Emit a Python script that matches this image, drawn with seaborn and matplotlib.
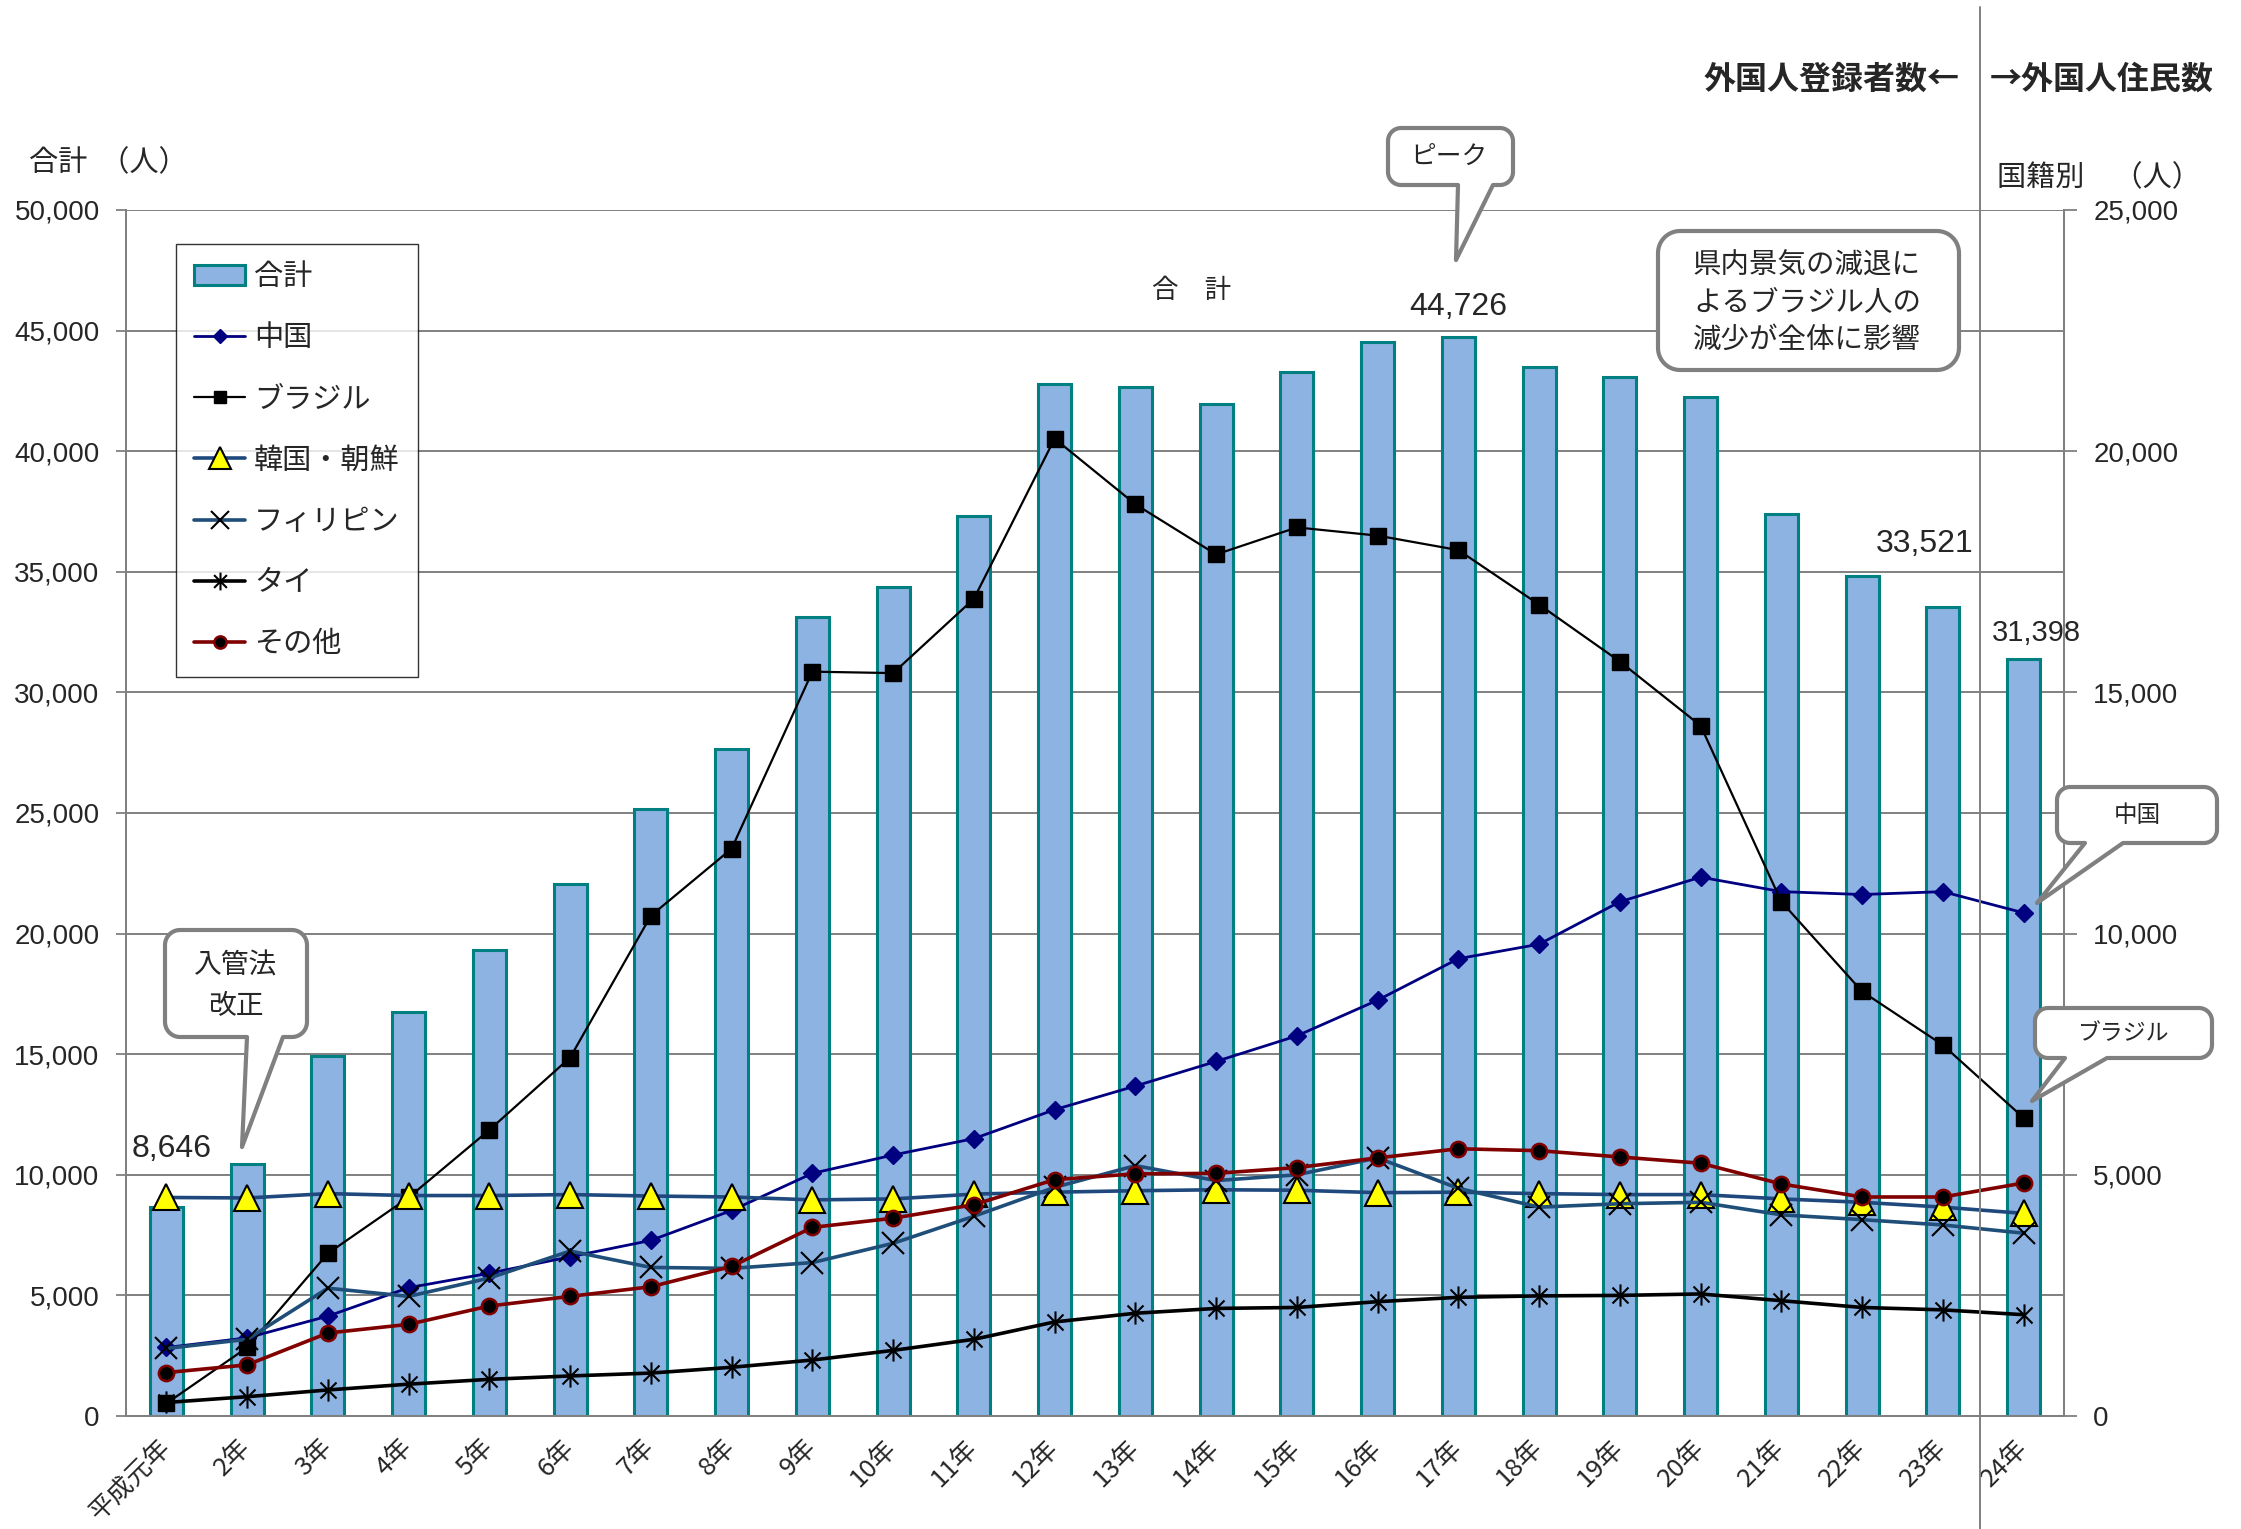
import numpy as np
import matplotlib
matplotlib.use("Agg")
import matplotlib.pyplot as plt
import seaborn as sns
from matplotlib.path import Path
from matplotlib.patches import PathPatch, Patch
from matplotlib.lines import Line2D

# ---------------- data ----------------
years = ["平成元年", "2年", "3年", "4年", "5年", "6年", "7年", "8年", "9年", "10年",
         "11年", "12年", "13年", "14年", "15年", "16年", "17年", "18年", "19年", "20年",
         "21年", "22年", "23年", "24年"]
total = [8646, 10450, 14940, 16770, 19310, 22040, 25180, 27670, 33120, 34360,
         37320, 42770, 42680, 41950, 43300, 44530, 44726, 43490, 43090, 42230,
         37380, 34840, 33521, 31398]
china = [1420, 1620, 2070, 2660, 2960, 3300, 3640, 4260, 5030, 5410,
         5750, 6350, 6840, 7350, 7880, 8620, 9480, 9780, 10660, 11170,
         10870, 10810, 10870, 10430]
brazil = [260, 1420, 3370, 4530, 5930, 7430, 10370, 11760, 15430, 15400,
          16940, 20260, 18900, 17860, 18420, 18250, 17950, 16820, 15640, 14310,
          10660, 8800, 7690, 6180]
korea = [4530, 4520, 4610, 4570, 4570, 4590, 4560, 4540, 4480, 4500,
         4600, 4640, 4670, 4690, 4680, 4630, 4640, 4610, 4590, 4590,
         4500, 4430, 4330, 4200]
philippines = [1400, 1590, 2650, 2480, 2860, 3420, 3080, 3060, 3180, 3580,
               4140, 4740, 5190, 4880, 5000, 5350, 4720, 4330, 4400, 4430,
               4170, 4070, 3960, 3790]
thai = [280, 400, 540, 660, 760, 830, 890, 1010, 1160, 1360,
        1590, 1950, 2130, 2230, 2250, 2370, 2460, 2490, 2500, 2530,
        2390, 2250, 2200, 2100]
others = [900, 1060, 1720, 1900, 2280, 2480, 2680, 3100, 3910, 4100,
          4380, 4900, 5020, 5030, 5150, 5350, 5540, 5500, 5370, 5240,
          4810, 4540, 4540, 4830]
series_labels = ["合計", "中国", "ブラジル", "韓国・朝鮮", "フィリピン", "タイ", "その他"]
left_ticks = list(range(0, 50001, 5000))
right_ticks = list(range(0, 25001, 5000))

# ---------------- style ----------------
sns.set_style("white")
plt.rcParams["font.family"] = ["Liberation Sans", "Noto Sans CJK JP"]
JP = ["Noto Sans CJK JP", "DejaVu Sans"]
NUM = ["Liberation Sans", "DejaVu Sans"]
GRAY = "#808080"

W, H = 2241, 1529
fig = plt.figure(figsize=(W / 100, H / 100), dpi=100)


def fx(x):
    return x / W


def fy(y):
    return 1 - y / H


L, R, T, B = 126, 2064, 210, 1416
ax = fig.add_axes([fx(L), fy(B), (R - L) / W, (B - T) / H])
ax2 = ax.twinx()

x = np.arange(len(years))

# bars (left axis)
sns.barplot(x=years, y=total, order=years, ax=ax, color="#8DB3E2",
            edgecolor="#008080", linewidth=2.2, width=0.41, saturation=1)

ax.set_xlim(-0.5, len(years) - 0.5)
ax.set_ylim(0, 50000)
ax2.set_ylim(0, 25000)
ax.set_axisbelow(True)
ax.grid(axis="y", color=GRAY, lw=1.4)
ax.grid(axis="x", visible=False)

# asterisk marker (vertical + X)
star = Path([(0, -1), (0, 1), (-0.72, -0.72), (0.72, 0.72), (-0.72, 0.72), (0.72, -0.72)],
            [Path.MOVETO, Path.LINETO] * 3)

styles = {
    "中国": dict(color="#000080", lw=2.0, marker="D", ms=9, mfc="#000080", mec="#000080", mew=1),
    "ブラジル": dict(color="black", lw=1.6, marker="s", ms=11, mfc="black", mec="black", mew=1),
    "韓国・朝鮮": dict(color="#1F497D", lw=2.6, marker="^", ms=19, mfc="#FFFF00", mec="black", mew=1.5),
    "フィリピン": dict(color="#1F4E79", lw=2.6, marker="x", ms=16, mfc="black", mec="black", mew=1.5),
    "タイ": dict(color="black", lw=2.6, marker=star, ms=16, mfc="black", mec="black", mew=1.5),
    "その他": dict(color="#800000", lw=2.6, marker="o", ms=11, mfc="black", mec="#800000", mew=1.8),
}
data_lines = {"中国": china, "ブラジル": brazil, "韓国・朝鮮": korea,
              "フィリピン": philippines, "タイ": thai, "その他": others}

for name, vals in data_lines.items():
    st = styles[name]
    sns.lineplot(x=x, y=vals, ax=ax2, color=st["color"], linewidth=st["lw"],
                 marker=st["marker"], markersize=st["ms"], markerfacecolor=st["mfc"],
                 markeredgecolor=st["mec"], markeredgewidth=st["mew"], legend=False)

# ---------------- axes styling ----------------
for a in (ax, ax2):
    for s in a.spines.values():
        s.set_color(GRAY)
        s.set_linewidth(1.4)
    a.spines["top"].set_visible(False)

ax.set_xticks(x)
ax.set_xticklabels(years, rotation=45, ha="right", va="center",
                   rotation_mode="anchor", fontsize=18.5, family=JP)
ax.tick_params(axis="x", which="major", length=0, pad=20)
ax.set_xticks(np.arange(len(years) + 1) - 0.5, minor=True)
ax.tick_params(axis="x", which="minor", direction="in", length=9, width=1.3, color=GRAY)

ax.set_yticks(left_ticks)
ax.set_yticklabels([f"{v:,}" for v in left_ticks], fontsize=20, family=NUM)
ax.tick_params(axis="y", direction="out", length=7, width=1.3, color=GRAY, pad=12)
ax.set_xlabel("")
ax.set_ylabel("")

ax2.set_yticks(right_ticks)
ax2.set_yticklabels([f"{v:,}" for v in right_ticks], fontsize=20, family=NUM)
ax2.tick_params(axis="y", direction="out", length=9, width=1.3, color=GRAY, pad=12)
ax2.set_ylabel("")

# ---------------- legend ----------------
handles = [Patch(facecolor="#8DB3E2", edgecolor="#008080", lw=2.2)]
for name in series_labels[1:]:
    st = styles[name]
    handles.append(Line2D([], [], color=st["color"], lw=st["lw"], marker=st["marker"],
                          ms=st["ms"] * 0.8, mfc=st["mfc"], mec=st["mec"], mew=st["mew"]))
leg = ax2.legend(handles, series_labels, loc="upper left",
                 bbox_to_anchor=(fx(176), fy(244)), bbox_transform=fig.transFigure,
                 borderaxespad=0, frameon=True, fancybox=False, edgecolor="black",
                 prop={"family": JP, "size": 21}, handlelength=1.75,
                 handletextpad=0.3, labelspacing=1.07, borderpad=0.62, numpoints=1)
leg.get_frame().set_linewidth(1.0)
leg.set_zorder(30)

# ---------------- value labels ----------------
def value_label(i, dx, dy, size):
    ax.annotate(f"{total[i]:,}", xy=(i, total[i]), xytext=(dx, dy),
                textcoords="offset pixels", ha="center", va="baseline",
                fontsize=size, family=NUM, annotation_clip=False)


value_label(0, 5, 50, 23)
value_label(16, 0, 22, 23)
value_label(22, -18, 55, 23)
value_label(23, 13, 18, 21)

# ---------------- texts ----------------
fig.text(fx(29), fy(163), "合計  （人）", ha="left", va="center", fontsize=21, family=JP)
fig.text(fx(1997), fy(178), "国籍別　（人）", ha="left", va="center", fontsize=21, family=JP)
fig.text(fx(1960), fy(80), "外国人登録者数←", ha="right", va="center", fontsize=23,
         family=JP, weight="bold")
fig.text(fx(1990), fy(80), "→外国人住民数", ha="left", va="center", fontsize=23,
         family=JP, weight="bold")
fig.text(fx(1192), fy(290), "合　計", ha="center", va="center", fontsize=19, family=JP)

# separator line
fig.add_artist(Line2D([fx(1980), fx(1980)], [fy(7), fy(1529)], transform=fig.transFigure,
                      color=GRAY, lw=1.4, zorder=15))

# ---------------- callouts ----------------
def callout(x0, y0, x1, y1, r, ptr=None):
    pts = []

    def arc(cx, cy, a0, a1, n=12):
        for t in np.linspace(a0, a1, n):
            pts.append((cx + r * np.cos(t), cy + r * np.sin(t)))

    arc(x0 + r, y0 + r, np.pi, 1.5 * np.pi)
    arc(x1 - r, y0 + r, 1.5 * np.pi, 2 * np.pi)
    arc(x1 - r, y1 - r, 0, 0.5 * np.pi)
    if ptr is not None:
        bx0, bx1, tx, ty = ptr
        pts += [(bx1, y1), (tx, ty), (bx0, y1)]
    arc(x0 + r, y1 - r, 0.5 * np.pi, np.pi)
    pts.append(pts[0])
    verts = [(fx(px), fy(py)) for px, py in pts]
    codes = [Path.MOVETO] + [Path.LINETO] * (len(verts) - 2) + [Path.CLOSEPOLY]
    patch = PathPatch(Path(verts, codes), transform=fig.transFigure, facecolor="white",
                      edgecolor=GRAY, lw=3.0, joinstyle="round", zorder=20)
    fig.add_artist(patch)


callout(165, 930, 307, 1037, 15, ptr=(247, 283, 242, 1147))
fig.text(fx(236), fy(986), "入管法\n改正", ha="center", va="center", fontsize=20,
         family=JP, linespacing=1.45, zorder=21)

callout(1388, 128, 1513, 185, 13, ptr=(1458, 1493, 1456, 260))
fig.text(fx(1449), fy(157), "ピーク", ha="center", va="center", fontsize=18.5,
         family=JP, zorder=21)

callout(1658, 231, 1959, 370, 22)
fig.text(fx(1807), fy(303), "県内景気の減退に\nよるブラジル人の\n減少が全体に影響",
         ha="center", va="center", fontsize=20.5, family=JP, linespacing=1.3, zorder=21)

callout(2057, 787, 2217, 843, 13, ptr=(2085, 2123, 2037, 903))
fig.text(fx(2137), fy(815), "中国", ha="center", va="center", fontsize=17, family=JP, zorder=21)

callout(2035, 1008, 2212, 1058, 13, ptr=(2065, 2107, 2032, 1101))
fig.text(fx(2123), fy(1034), "ブラジル", ha="center", va="center", fontsize=16.5,
         family=JP, zorder=21)

fig.savefig("out.png", dpi=100)
